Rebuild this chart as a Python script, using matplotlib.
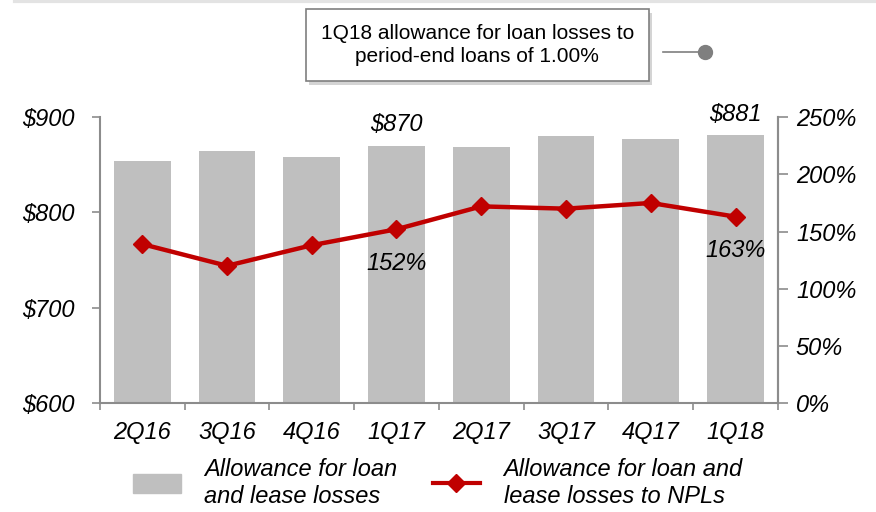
import matplotlib.pyplot as plt
import matplotlib.patheffects as pe
from matplotlib.patches import Patch
from matplotlib.lines import Line2D
import numpy as np

plt.rcParams['font.family'] = ['Liberation Sans', 'DejaVu Sans']

quarters = ['2Q16', '3Q16', '4Q16', '1Q17', '2Q17', '3Q17', '4Q17', '1Q18']
allowance = [854, 865, 858, 870, 869, 880, 877, 881]
coverage = [139, 120, 138, 152, 172, 170, 175, 163]
bar_labels = {3: '$870', 7: '$881'}
line_labels = {3: '152%', 7: '163%'}

grey = '#bfbfbf'
red = '#c00000'
axis_grey = '#8c8c8c'
fs = 17

fig = plt.figure(figsize=(8.76, 5.12), dpi=100)
ax = fig.add_axes([0.114, 0.213, 0.774, 0.558])
ax2 = ax.twinx()

x = np.arange(len(quarters))
ax.bar(x, allowance, width=0.67, color=grey, zorder=1)
ax.set_ylim(600, 900)
ax.set_xlim(-0.5, len(quarters) - 0.5)
ax.set_yticks([600, 700, 800, 900])
ax.set_yticklabels(['$600', '$700', '$800', '$900'])

ax2.plot(x, coverage, color=red, lw=3.2, marker='D', ms=9, zorder=3)
ax2.set_ylim(0, 250)
ax2.set_yticks(range(0, 251, 50))
ax2.set_yticklabels([f'{v}%' for v in range(0, 251, 50)])

for i, t in bar_labels.items():
    ax.text(x[i], allowance[i] + 10, t, ha='center', va='bottom',
            fontsize=fs, style='italic', clip_on=False)
for i, t in line_labels.items():
    ax2.text(x[i], coverage[i] - 30, t, ha='center', va='center',
             fontsize=fs, style='italic')

ax.set_xticks(x)
ax.set_xticklabels(quarters, fontsize=fs, style='italic')
ax.set_xticks(np.arange(-0.5, len(quarters)), minor=True)
ax.tick_params(axis='x', which='major', length=0, pad=13)
ax.tick_params(axis='x', which='minor', length=5, color=axis_grey, width=1.2)
ax.tick_params(axis='y', length=6, color=axis_grey, width=1.2, labelsize=fs, pad=12)
ax2.tick_params(axis='y', length=7, color=axis_grey, width=1.2, labelsize=fs, pad=6)
for lab in ax.get_yticklabels() + ax2.get_yticklabels():
    lab.set_style('italic')

for a in (ax, ax2):
    a.spines['top'].set_visible(False)
    for s in ('left', 'right', 'bottom'):
        a.spines[s].set_color(axis_grey)
        a.spines[s].set_linewidth(1.5)
ax2.spines['left'].set_visible(False)
ax2.spines['bottom'].set_visible(False)

# faint shadow line along the top edge
fig.add_artist(Line2D([0.017, 1.0], [0.998, 0.998], color='#e3e3e3', lw=3))

# annotation box
note = fig.text(0.545, 0.912, '1Q18 allowance for loan losses to\nperiod-end loans of 1.00%',
                ha='center', va='center', fontsize=15, linespacing=1.3,
                bbox=dict(boxstyle='square,pad=0.72', fc='white', ec='#7f7f7f', lw=1.2))
note.get_bbox_patch().set_path_effects(
    [pe.withSimplePatchShadow(offset=(2, -3), shadow_rgbFace='#aaaaaa', alpha=0.5)])
fig.add_artist(Line2D([0.757, 0.805], [0.898, 0.898], color='#7f7f7f', lw=1.2))
fig.add_artist(Line2D([0.805], [0.898], marker='o', ms=10, color='#7f7f7f'))

handles = [Patch(color=grey),
           Line2D([], [], color=red, lw=3, marker='D', ms=9)]
labels = ['Allowance for loan\nand lease losses',
          'Allowance for loan and\nlease losses to NPLs']
fig.legend(handles, labels, loc='center', bbox_to_anchor=(0.5, 0.057),
           ncol=2, frameon=False, handlelength=2.0, handleheight=0.9,
           columnspacing=1.5, handletextpad=1.0,
           prop=dict(size=fs, style='italic'))

fig.savefig('out.png', dpi=100)
